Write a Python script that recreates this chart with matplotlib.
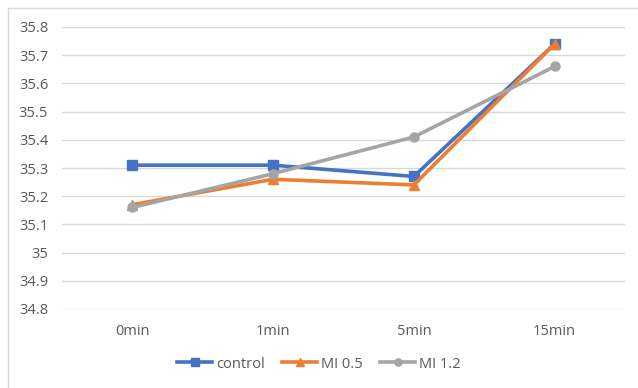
import matplotlib.pyplot as plt
from matplotlib.lines import Line2D

times = ["0min", "1min", "5min", "15min"]
control = [35.31, 35.31, 35.27, 35.74]
mi_05 = [35.17, 35.26, 35.24, 35.74]
mi_12 = [35.16, 35.28, 35.41, 35.66]
yticks = [34.8, 34.9, 35.0, 35.1, 35.2, 35.3, 35.4, 35.5, 35.6, 35.7, 35.8]
ylabels = ["34.8", "34.9", "35", "35.1", "35.2", "35.3", "35.4", "35.5", "35.6", "35.7", "35.8"]

plt.rcParams['font.family'] = ['Open Sans', 'DejaVu Sans']
txt = '#595959'

fig = plt.figure(figsize=(6.38, 3.88), dpi=100)
ax = fig.add_axes([62/638, 1-309/388, 563/638, 282/388])

x = range(len(times))
ax.plot(x, control, color='#4472C4', lw=2.6, marker='s', ms=6.5, label="control", zorder=3)
ax.plot(x, mi_05, color='#ED7D31', lw=2.6, marker='^', ms=7, label="MI 0.5", zorder=4)
ax.plot(x, mi_12, color='#A5A5A5', lw=2.6, marker='o', ms=6.5, label="MI 1.2", zorder=5)

ax.set_xlim(-0.5, 3.5)
ax.set_ylim(34.8, 35.8)
ax.set_yticks(yticks)
ax.set_yticklabels(ylabels)
ax.set_xticks(list(x))
ax.set_xticklabels(times)
ax.tick_params(length=0, colors=txt, labelsize=10.5)
ax.tick_params(axis='y', pad=10)
ax.tick_params(axis='x', pad=11)
ax.grid(axis='y', color='#D9D9D9', lw=1)
ax.set_axisbelow(True)
for s in ax.spines.values():
    s.set_visible(False)

leg = fig.legend(loc='center', bbox_to_anchor=(0.5, 1-364/388), ncol=3, frameon=False,
                 fontsize=10.5, handlelength=2.4, columnspacing=1.2, handletextpad=0.25,
                 markerscale=0.8)
for t in leg.get_texts():
    t.set_color(txt)

# chart frame edges
fig.add_artist(Line2D([8/638, 1], [1-8/388, 1-8/388], color='#D9D9D9', lw=1))
fig.add_artist(Line2D([8/638, 8/638], [0, 1-8/388], color='#D9D9D9', lw=1))

fig.savefig("out.png")
